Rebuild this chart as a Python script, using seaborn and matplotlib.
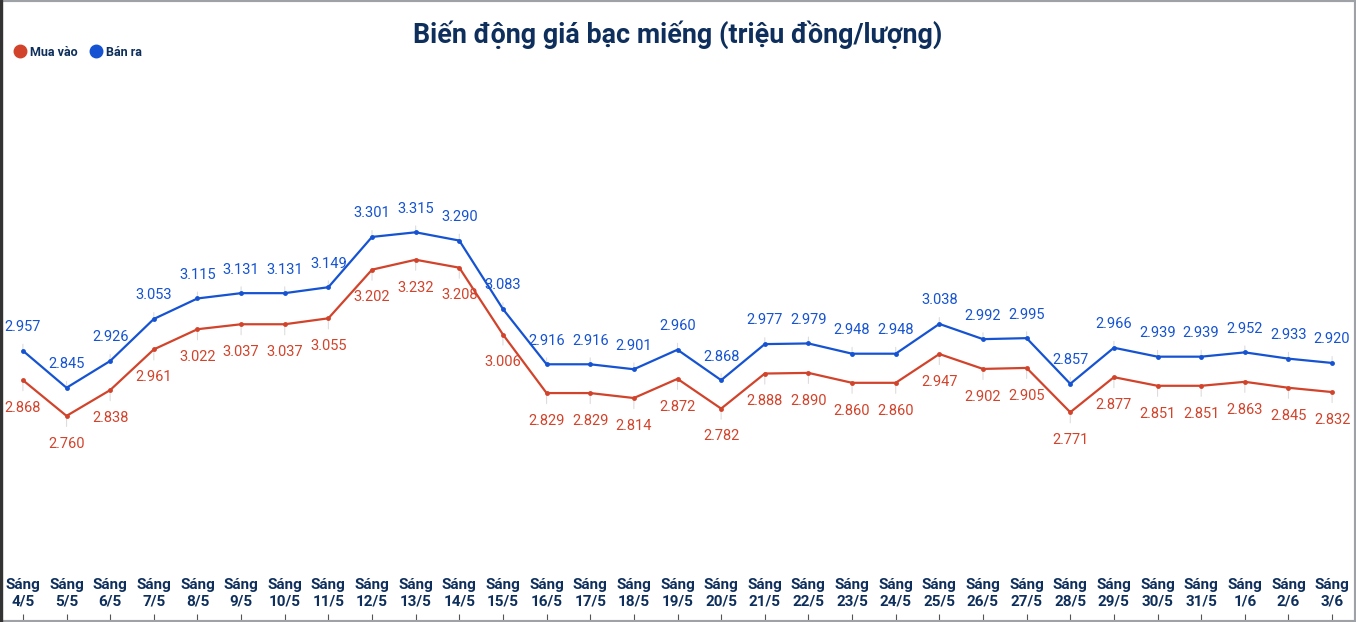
import pandas as pd
import matplotlib.pyplot as plt
import seaborn as sns
from matplotlib.lines import Line2D
from matplotlib.patches import Rectangle

# Du lieu
ngay = ['4/5', '5/5', '6/5', '7/5', '8/5', '9/5', '10/5', '11/5', '12/5', '13/5',
        '14/5', '15/5', '16/5', '17/5', '18/5', '19/5', '20/5', '21/5', '22/5', '23/5',
        '24/5', '25/5', '26/5', '27/5', '28/5', '29/5', '30/5', '31/5', '1/6', '2/6', '3/6']
mua_vao = [2.868, 2.760, 2.838, 2.961, 3.022, 3.037, 3.037, 3.055, 3.202, 3.232,
           3.208, 3.006, 2.829, 2.829, 2.814, 2.872, 2.782, 2.888, 2.890, 2.860,
           2.860, 2.947, 2.902, 2.905, 2.771, 2.877, 2.851, 2.851, 2.863, 2.845, 2.832]
ban_ra = [2.957, 2.845, 2.926, 3.053, 3.115, 3.131, 3.131, 3.149, 3.301, 3.315,
          3.290, 3.083, 2.916, 2.916, 2.901, 2.960, 2.868, 2.977, 2.979, 2.948,
          2.948, 3.038, 2.992, 2.995, 2.857, 2.966, 2.939, 2.939, 2.952, 2.933, 2.920]
tick_labels = ['Sáng\n' + d for d in ngay]

RED = '#d2432b'
BLUE = '#1553d2'
NAVY = '#0e2f5c'

n = len(ngay)
df = pd.DataFrame({
    'idx': list(range(n)) * 2,
    'gia': mua_vao + ban_ra,
    'loai': ['Mua vào'] * n + ['Bán ra'] * n,
})

sns.set_style('white')
plt.rcParams['font.family'] = ['Roboto', 'DejaVu Sans']

fig = plt.figure(figsize=(13.56, 6.22), dpi=100)
ax = fig.add_axes([5 / 1356, 2 / 622, 1345 / 1356, 568 / 622])

sns.lineplot(data=df, x='idx', y='gia', hue='loai',
             palette={'Mua vào': RED, 'Bán ra': BLUE},
             marker='o', markersize=3.5, markeredgewidth=0,
             linewidth=1.6, ax=ax, legend=False)

# Nhan gia tri
for i in range(n):
    ax.annotate(f'{ban_ra[i]:.3f}', xy=(i, ban_ra[i]), xytext=(0, 17),
                textcoords='offset points', ha='center', va='center',
                color=BLUE, fontsize=10.5,
                arrowprops=dict(arrowstyle='-', color='#dddddd', lw=0.8,
                                shrinkA=5, shrinkB=0), zorder=1)
    ax.annotate(f'{mua_vao[i]:.3f}', xy=(i, mua_vao[i]), xytext=(0, -20),
                textcoords='offset points', ha='center', va='center',
                color=RED, fontsize=10.5,
                arrowprops=dict(arrowstyle='-', color='#dddddd', lw=0.8,
                                shrinkA=5, shrinkB=0), zorder=1)

ax.set_xlim(-0.41, n - 1 + 0.41)
ax.set_ylim(2.143, 3.86)
ax.set_xticks(range(n))
ax.set_xticklabels(tick_labels, fontsize=11, fontweight='bold', color=NAVY,
                   linespacing=1.2)
ax.tick_params(axis='x', direction='in', length=4, width=0.8, color='#555555',
               pad=-30, bottom=True)
ax.set_yticks([])
ax.set_xlabel('')
ax.set_ylabel('')
for s in ax.spines.values():
    s.set_visible(False)

fig.text(0.5, 1 - 35 / 622, 'Biến động giá bạc miếng (triệu đồng/lượng)',
         ha='center', va='center', fontsize=19.4, fontweight='bold', color=NAVY)

handles = [Line2D([], [], marker='o', linestyle='', markersize=9, color=RED),
           Line2D([], [], marker='o', linestyle='', markersize=9, color=BLUE)]
leg = fig.legend(handles, ['Mua vào', 'Bán ra'], loc='center left',
                 bbox_to_anchor=(2 / 1356, 1 - 52 / 622), ncol=2, frameon=False,
                 handletextpad=0.3, columnspacing=1.0, handlelength=1.0,
                 prop={'weight': 'bold', 'size': 9})
for t in leg.get_texts():
    t.set_color(NAVY)

fig.patches.append(Rectangle((0, 0), 1, 1, transform=fig.transFigure, fill=False,
                             edgecolor='#9ea2a6', lw=3, zorder=10))
fig.patches.append(Rectangle((0, 0), 0.0015, 1, transform=fig.transFigure,
                             color='#333333', zorder=11))

fig.savefig('out.png', dpi=100)
